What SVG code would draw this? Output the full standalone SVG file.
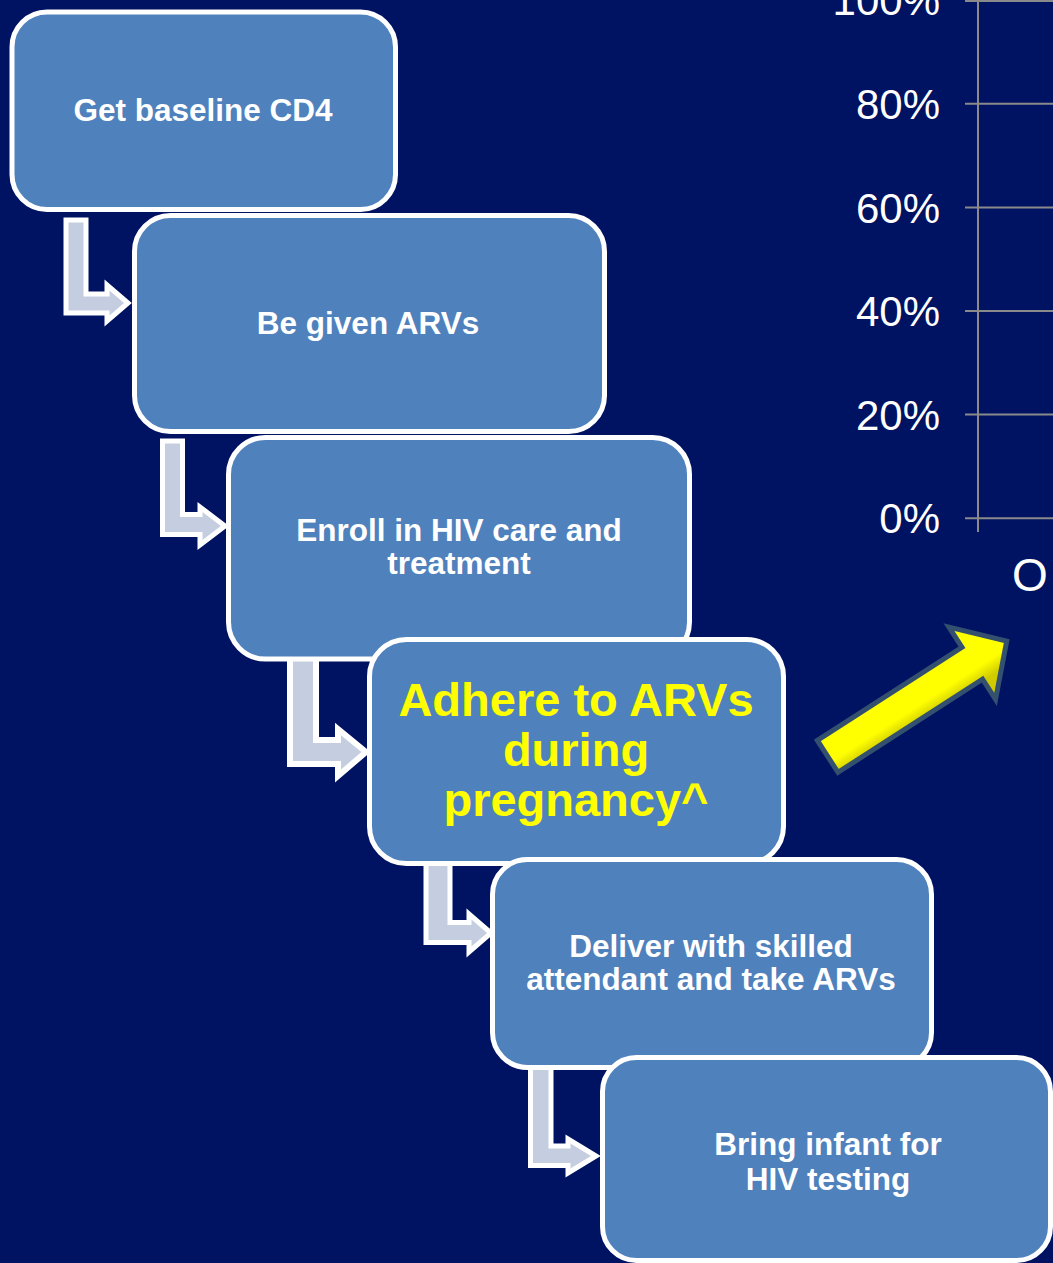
<svg xmlns="http://www.w3.org/2000/svg" width="1053" height="1263" viewBox="0 0 1053 1263">
<defs>
<style>
.box{fill:#4F81BD;stroke:#FFFFFF;stroke-width:5}
.bent{fill:#C5CEE1;stroke:#FFFFFF;stroke-width:5;stroke-linejoin:miter}
.t{font-family:"Liberation Sans",Arial,sans-serif;font-weight:bold;font-size:31.5px;fill:#FFFFFF;text-anchor:middle}
.ty{font-family:"Liberation Sans",Arial,sans-serif;font-weight:bold;font-size:47px;fill:#FFFF00;text-anchor:middle}
.ax{font-family:"Liberation Sans",Arial,sans-serif;font-size:42px;fill:#FFFFFF;text-anchor:end}
.grid{stroke:#8A8A8A;stroke-width:2}
</style>
<linearGradient id="yg" gradientUnits="userSpaceOnUse" x1="0" y1="-21" x2="0" y2="21">
<stop offset="0" stop-color="#FFFF00"/>
<stop offset="0.65" stop-color="#FFFF00"/>
<stop offset="1" stop-color="#CFCB00"/>
</linearGradient>
</defs>
<rect width="1053" height="1263" fill="#001262"/>

<g id="chart-axis">
<line class="grid" x1="978" y1="0" x2="978" y2="532"/>
<line class="grid" x1="965" y1="1" x2="1053" y2="1"/>
<line class="grid" x1="965" y1="103.7" x2="1053" y2="103.7"/>
<line class="grid" x1="965" y1="207.4" x2="1053" y2="207.4"/>
<line class="grid" x1="965" y1="311" x2="1053" y2="311"/>
<line class="grid" x1="965" y1="414.6" x2="1053" y2="414.6"/>
<line class="grid" x1="965" y1="518.3" x2="1053" y2="518.3"/>
<text class="ax" x="940" y="15">100%</text>
<text class="ax" x="940" y="119">80%</text>
<text class="ax" x="940" y="222.5">60%</text>
<text class="ax" x="940" y="326">40%</text>
<text class="ax" x="940" y="429.5">20%</text>
<text class="ax" x="940" y="533">0%</text>
<text x="1012" y="591" style="font-family:'Liberation Sans',Arial,sans-serif;font-size:46px;fill:#FFFFFF">O</text>
</g>

<g id="connectors">
<polygon class="bent" points="66,220 86,220 86,294 107,294 107,285 128,303 107,321 107,313 66,313"/>
<polygon class="bent" points="162.5,441 182.5,441 182.5,514.5 200,514.5 200,507 225,526 200,545 200,534.5 162.5,534.5"/>
<polygon class="bent" style="stroke-width:6" points="290,655 316,655 316,740 338,740 338,729 366,752 338,776 338,764 290,764"/>
<polygon class="bent" points="426,860 450,860 450,922.5 469,922.5 469,914 491,933 469,952 469,942.5 426,942.5"/>
<polygon class="bent" points="530.5,1066 551,1066 551,1146 568,1146 568,1139 596,1156 568,1173 568,1165.5 530.5,1165.5"/>
</g>

<g id="node1">
<rect class="box" x="12" y="12" width="383.5" height="197.5" rx="35" ry="35"/>
<text class="t" x="203" y="121">Get baseline CD4</text>
</g>
<g id="node2">
<rect class="box" x="134.5" y="215.5" width="470" height="216" rx="36" ry="36"/>
<text class="t" x="368" y="334">Be given ARVs</text>
</g>
<g id="node3">
<rect class="box" x="228.5" y="437.5" width="461" height="221.5" rx="37" ry="37"/>
<text class="t" x="459" y="541">Enroll in HIV care and</text>
<text class="t" x="459" y="574">treatment</text>
</g>
<g id="node4">
<rect class="box" x="369.5" y="639.5" width="414" height="224" rx="37" ry="37"/>
<text class="ty" x="576" y="716">Adhere to ARVs</text>
<text class="ty" x="576" y="766">during</text>
<text class="ty" x="576" y="816">pregnancy^</text>
</g>
<g id="node5">
<rect class="box" x="492.5" y="859.5" width="439" height="208" rx="35" ry="35"/>
<text class="t" x="711" y="957">Deliver with skilled</text>
<text class="t" x="711" y="990">attendant and take ARVs</text>
</g>
<g id="node6">
<rect class="box" x="602.5" y="1057.5" width="448" height="203" rx="34" ry="34"/>
<text class="t" x="828" y="1155">Bring infant for</text>
<text class="t" x="828" y="1190">HIV testing</text>
</g>

<g id="yellow-arrow" transform="translate(826,757.5) rotate(-32.8)">
<polygon points="2,-19 174,-19 174,-43 215,0 174,43 174,19 2,19" fill="url(#yg)" stroke="#34506F" stroke-width="5" stroke-linejoin="miter"/>
</g>
</svg>
